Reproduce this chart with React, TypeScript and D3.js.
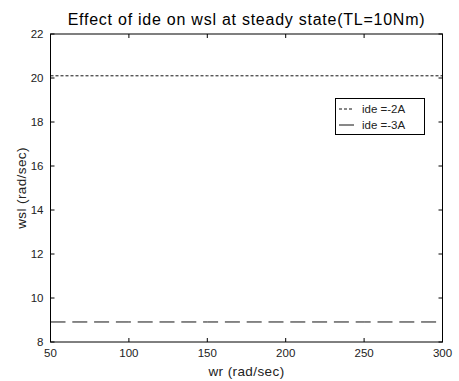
import React from "react";
import * as d3 from "d3";

// Rotor speed range and steady-state slip speed for each d-axis current
const wrDomain = [50, 300];
const wslDomain = [8, 22];
const xTicks = [50, 100, 150, 200, 250, 300];
const yTicks = [8, 10, 12, 14, 16, 18, 20, 22];
const wrPoints = [50, 100, 150, 200, 250, 300];
const wslIde2 = [20.1, 20.1, 20.1, 20.1, 20.1, 20.1];
const wslIde3 = [8.91, 8.91, 8.91, 8.91, 8.91, 8.91];
const legendLabels = ["ide =-2A", "ide =-3A"];

const W = 459;
const H = 381;
const margin = { left: 50.5, right: 16, top: 34, bottom: 39 };
const font = "'Liberation Sans', Arial, sans-serif";

export default function App() {
  const x = d3
    .scaleLinear()
    .domain(wrDomain)
    .range([margin.left, W - margin.right - 0.5]);
  const y = d3
    .scaleLinear()
    .domain(wslDomain)
    .range([H - margin.bottom, margin.top]);

  const line = d3
    .line<number>()
    .x((_, i) => x(wrPoints[i]))
    .y((d) => y(d));

  const x0 = x.range()[0];
  const x1 = x.range()[1];
  const yb = y.range()[0];
  const yt = y.range()[1];
  const tickLen = 4;
  const tickColor = "#000";
  const labelColor = "#222";

  return (
    <svg
      width={W}
      height={H}
      style={{ position: "absolute", left: 0, top: 0, background: "#fff" }}
      fontFamily={font}
    >
      {/* plotted lines */}
      <path
        d={line(wslIde2) || ""}
        fill="none"
        stroke="#111"
        strokeWidth={1}
        strokeDasharray="3,2"
      />
      <path
        d={line(wslIde3) || ""}
        fill="none"
        stroke="#111"
        strokeWidth={1}
        strokeDasharray="15,6.8"
      />

      {/* axes box */}
      <rect
        x={x0}
        y={yt}
        width={x1 - x0}
        height={yb - yt}
        fill="none"
        stroke="#000"
        strokeWidth={1}
      />

      {/* x ticks */}
      {xTicks.map((t) => (
        <g key={"x" + t}>
          <line x1={x(t)} x2={x(t)} y1={yb} y2={yb - tickLen} stroke={tickColor} />
          <line x1={x(t)} x2={x(t)} y1={yt} y2={yt + tickLen} stroke={tickColor} />
          <text
            x={x(t)}
            y={yb + 15}
            textAnchor="middle"
            fontSize={11.5}
            fill={labelColor}
          >
            {t}
          </text>
        </g>
      ))}

      {/* y ticks */}
      {yTicks.map((t) => (
        <g key={"y" + t}>
          <line x1={x0} x2={x0 + tickLen} y1={y(t)} y2={y(t)} stroke={tickColor} />
          <line x1={x1} x2={x1 - tickLen} y1={y(t)} y2={y(t)} stroke={tickColor} />
          <text
            x={x0 - 7}
            y={y(t) + 4}
            textAnchor="end"
            fontSize={11.5}
            fill={labelColor}
          >
            {t}
          </text>
        </g>
      ))}

      {/* title and axis labels */}
      <text
        x={(x0 + x1) / 2}
        y={25}
        textAnchor="middle"
        fontSize={16}
        letterSpacing={0.75}
        fill="#000"
      >
        Effect of ide on wsl at steady state(TL=10Nm)
      </text>
      <text
        x={(x0 + x1) / 2}
        y={376}
        textAnchor="middle"
        fontSize={13.5}
        letterSpacing={0.4}
        fill={labelColor}
      >
        wr (rad/sec)
      </text>
      <text
        transform={`translate(26,${(yt + yb) / 2}) rotate(-90)`}
        textAnchor="middle"
        fontSize={13.5}
        letterSpacing={0.4}
        fill={labelColor}
      >
        wsl (rad/sec)
      </text>

      {/* legend */}
      <g>
        <rect x={335.5} y={98.5} width={89} height={36} fill="#fff" stroke="#000" />
        <line x1={339} x2={354} y1={109} y2={109} stroke="#111" strokeDasharray="3,2" />
        <line x1={339} x2={354} y1={125} y2={125} stroke="#111" />
        <text x={362} y={113} fontSize={11.5} fill={labelColor}>
          {legendLabels[0]}
        </text>
        <text x={362} y={129} fontSize={11.5} fill={labelColor}>
          {legendLabels[1]}
        </text>
      </g>
    </svg>
  );
}
